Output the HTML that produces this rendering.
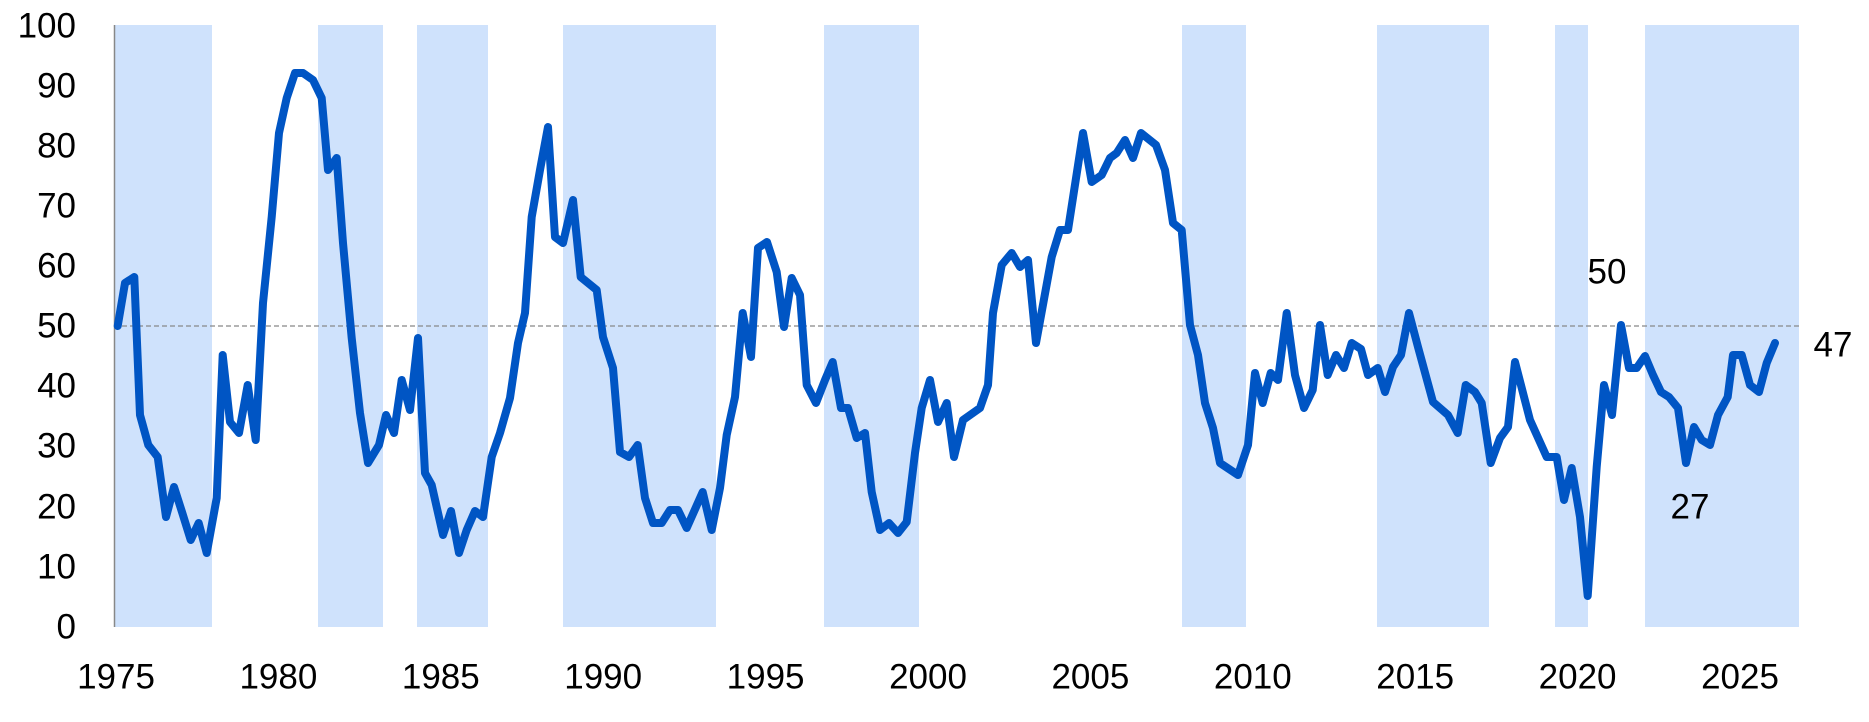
<!DOCTYPE html>
<html><head><meta charset="utf-8"><style>
html,body{margin:0;padding:0;background:#fff;}
svg{display:block;}
text{font-family:"Liberation Sans",sans-serif;font-size:35px;fill:#000;}
</style></head><body>
<svg width="1869" height="722" viewBox="0 0 1869 722" xmlns="http://www.w3.org/2000/svg">
<g fill="#cfe2fc">
<rect x="114" y="25" width="98" height="602"/>
<rect x="318" y="25" width="65" height="602"/>
<rect x="417" y="25" width="71" height="602"/>
<rect x="563" y="25" width="153" height="602"/>
<rect x="824" y="25" width="95" height="602"/>
<rect x="1182" y="25" width="64" height="602"/>
<rect x="1377" y="25" width="112" height="602"/>
<rect x="1555" y="25" width="33" height="602"/>
<rect x="1645" y="25" width="154" height="602"/>
</g>
<line x1="114.5" y1="25" x2="114.5" y2="627" stroke="#888" stroke-width="1.5"/>
<line x1="114" y1="326" x2="1799" y2="326" stroke="#888" stroke-width="1.3" stroke-dasharray="5,3"/>
<polyline fill="none" stroke="#0055c4" stroke-width="8" stroke-linejoin="round" stroke-linecap="round" points="
117.7,326 125,283 134.3,277 140,415 148.3,445 157.7,457 166,517 174,487 182,512 190.7,540 198.7,523 206.7,553 216.7,498 222.7,355 230,422 239,433 247.7,385 255.7,440 263,303 271.7,217 279,133 286.7,98 295,73 303,73 313,80 321.7,98 328,170 336.7,158 343,243 351.7,338 360,413 368,463 379,445 386,415 394,433 401.7,380 410,410 418,338 425,473 431.7,485 443,535 451,511 459,553 466.7,530 475,511 483,517 491.7,457 500,433 510,398 518,343 525,313 531.7,217 540,170 548,127 555,237 563,243 573,200 580.7,277 596.7,290 603,337 613,368 620,452 629,457 637.7,445 645,498 653,523 661.7,523 670,510 678,510 686.7,528 702.7,492 711.7,530 720,488 726.7,435 735,397 742.7,313 751,357 758,248 767,242 776.7,272 784,327 791.7,278 800,295 806.7,385 816,403 825,380 832.7,362 841,408 848,408 856.7,438 865,433 871.7,492 880,530 889,523 898,533 906.7,522 915,453 921.7,408 930,380 938,422 946.7,403 954,457 963,420 980,408 988,385 993,313 1001.7,265 1011.7,253 1020,267 1028,260 1036,343 1051.7,257 1060,230 1068,230 1083,133 1091.7,182 1101.7,175 1110,158 1116.7,153 1125,140 1133,158 1141,133 1156,145 1165,170 1173,223 1181.7,230 1190,325 1198,355 1205,403 1213,428 1220,463 1238,475 1248,445 1255,373 1262.7,403 1270.7,373 1278,380 1286.7,313 1295,375 1304,408 1312.7,390 1320,325 1327.7,375 1336,355 1344,368 1351.7,343 1361,349 1368,375 1377.7,368 1385,392 1393,367 1401,355 1409,313 1418,347 1433,402 1448,415 1457.7,433 1465.7,385 1475,392 1481.7,403 1490.7,463 1500,438 1508,427 1515,362 1530,420 1546.7,457 1556.7,457 1564,500 1571.7,468 1580,517 1587.7,596 1596.7,467 1604,385 1612,415 1621,325 1629,368 1636.7,368 1645,356 1653,375 1661,392 1669,397 1678,408 1686,463 1694,427 1701.7,440 1710,445 1718,415 1727.7,397 1733,355 1741.7,355 1750,385 1759,392 1766.7,363 1775,343"/>
<g text-anchor="end" dominant-baseline="central">
<text x="76" y="26">100</text>
<text x="76" y="86">90</text>
<text x="76" y="146">80</text>
<text x="76" y="206">70</text>
<text x="76" y="266">60</text>
<text x="76" y="326">50</text>
<text x="76" y="386">40</text>
<text x="76" y="446">30</text>
<text x="76" y="507">20</text>
<text x="76" y="567">10</text>
<text x="76" y="627">0</text>
</g>
<g text-anchor="middle" dominant-baseline="central">
<text x="116" y="677">1975</text>
<text x="278.4" y="677">1980</text>
<text x="440.8" y="677">1985</text>
<text x="603.2" y="677">1990</text>
<text x="765.6" y="677">1995</text>
<text x="928" y="677">2000</text>
<text x="1090.4" y="677">2005</text>
<text x="1252.8" y="677">2010</text>
<text x="1415.2" y="677">2015</text>
<text x="1577.6" y="677">2020</text>
<text x="1740" y="677">2025</text>
<text x="1607" y="272">50</text>
<text x="1690" y="507">27</text>
<text x="1833" y="345">47</text>
</g>
</svg>
</body></html>
